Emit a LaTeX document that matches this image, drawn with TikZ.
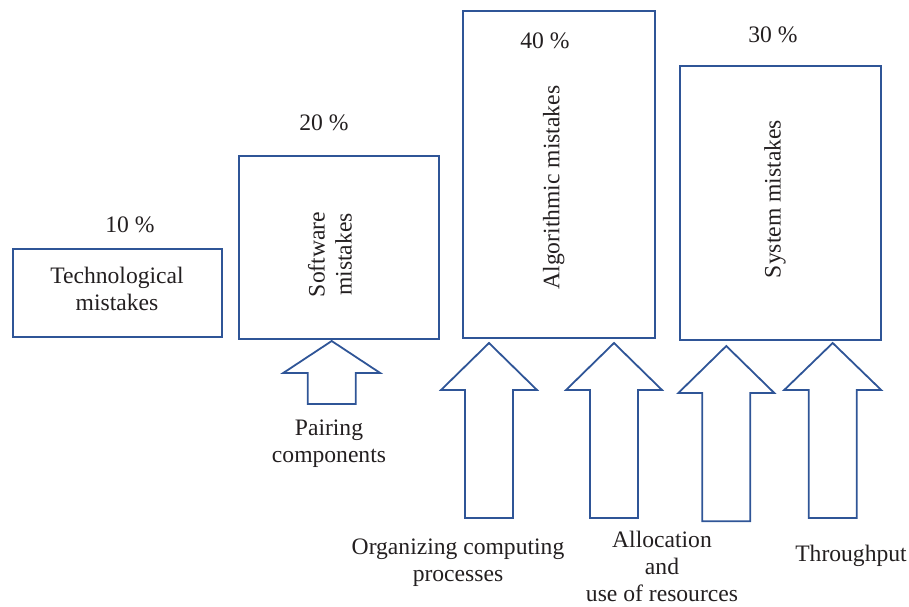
\documentclass[tikz,border=0pt]{standalone}
\usepackage{fontspec}
\setmainfont{Liberation Serif}
\definecolor{boxblue}{RGB}{47,85,151}
\definecolor{txt}{RGB}{35,31,32}
\newcommand\blockarrow[7]{% name, tipx, tipy, head base y, head half, shaft half, bottom
  \draw[arrowshape] (#2,#3) coordinate (#1)
    -- ({#2+#5},#4) -- ({#2+#6},#4) -- ({#2+#6},#7) -- ({#2-#6},#7)
    -- ({#2-#6},#4) -- ({#2-#5},#4) -- cycle;}
\begin{document}
\begin{tikzpicture}[x=1pt,y=-1pt,
  mbox/.style={draw=boxblue, line width=1.8pt},
  arrowshape/.style={draw=boxblue, line width=1.8pt, line join=miter},
  lbl/.style={text=txt, font=\fontsize{23.6}{27}\selectfont, inner sep=0pt, anchor=base, align=center},
  rlbl/.style={lbl, rotate=90}]
\useasboundingbox (0,0) rectangle (909,606);
% boxes
\draw[mbox] (12.7,248.7) rectangle (222,337);
\node[lbl] (tech) at (117,310.5) {Technological\\mistakes};
\draw[mbox] (239,156) rectangle (439.3,339);
\node[rlbl] (soft) at (351.7,254.5) {Software\\mistakes};
\draw[mbox] (463.3,11) rectangle (655.3,338);
\node[rlbl] (algo) at (559.3,187.5) {Algorithmic mistakes};
\draw[mbox] (680.3,65.7) rectangle (881,340);
\node[rlbl] (sys) at (780.7,199) {System mistakes};
% percentages
\node[lbl] (p10) at (130,232) {10 \%};
\node[lbl] (p20) at (324,130) {20 \%};
\node[lbl] (p40) at (545,48.3) {40 \%};
\node[lbl] (p30) at (773,42.7) {30 \%};
% block arrows
\blockarrow{a1}{331.7}{341}{373}{48.5}{24}{404}
\blockarrow{a2}{489}{343}{390}{48}{24}{518}
\blockarrow{a3}{614}{343}{390}{48}{24}{518}
\blockarrow{a4}{726.3}{346}{393}{48}{24}{521.3}
\blockarrow{a5}{832.7}{343}{390}{48.5}{24}{518}
% arrow labels
\node[lbl] (pair) at (329,462) {Pairing\\components};
\node[lbl] (org) at (458,581) {Organizing computing\\processes};
\node[lbl] (alloc) at (662,601.7) {Allocation\\and\\use of resources};
\node[lbl] (thr) at (851,561.7) {Throughput};
\end{tikzpicture}
\end{document}
